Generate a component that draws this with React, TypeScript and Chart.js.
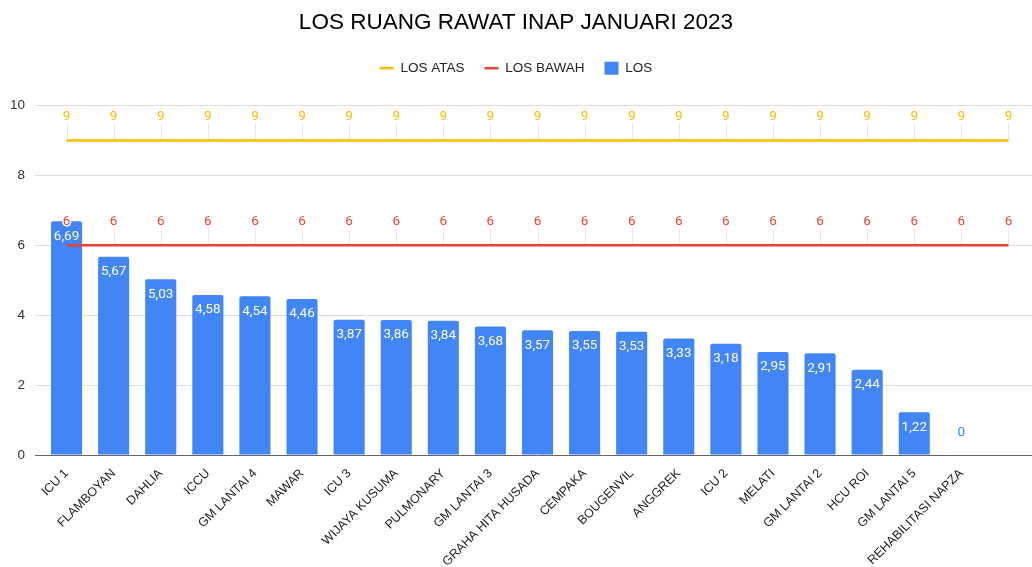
import React, { useEffect, useRef } from "react";
import { Chart, registerables } from "chart.js";

Chart.register(...registerables);

const TITLE = "LOS RUANG RAWAT INAP JANUARI 2023";

const categories: string[] = [
  "ICU 1",
  "FLAMBOYAN",
  "DAHLIA",
  "ICCU",
  "GM LANTAI 4",
  "MAWAR",
  "ICU 3",
  "WIJAYA KUSUMA",
  "PULMONARY",
  "GM LANTAI 3",
  "GRAHA HITA HUSADA",
  "CEMPAKA",
  "BOUGENVIL",
  "ANGGREK",
  "ICU 2",
  "MELATI",
  "GM LANTAI 2",
  "HCU ROI",
  "GM LANTAI 5",
  "REHABILITASI NAPZA",
  "",
];

const losValues: (number | null)[] = [
  6.69, 5.67, 5.03, 4.58, 4.54, 4.46, 3.87, 3.86, 3.84, 3.68, 3.57, 3.55,
  3.53, 3.33, 3.18, 2.95, 2.91, 2.44, 1.22, 0, null,
];

const losAtas: number[] = [
  9, 9, 9, 9, 9, 9, 9, 9, 9, 9, 9, 9, 9, 9, 9, 9, 9, 9, 9, 9, 9,
];

const losBawah: number[] = [
  6, 6, 6, 6, 6, 6, 6, 6, 6, 6, 6, 6, 6, 6, 6, 6, 6, 6, 6, 6, 6,
];

const yTicks: number[] = [0, 2, 4, 6, 8, 10];

const YELLOW = "#fbbc04";
const RED = "#ea4335";
const BLUE = "#4285f4";

const fmt = (v: number) =>
  Number.isInteger(v) ? String(v) : v.toFixed(2).replace(".", ",");

const labelPlugin = {
  id: "valueLabels",
  beforeDatasetsDraw(chart: any) {
    const ctx = chart.ctx;
    ctx.save();
    chart.data.datasets.forEach((ds: any, i: number) => {
      if (ds.type !== "line") return;
      const meta = chart.getDatasetMeta(i);
      meta.data.forEach((el: any, j: number) => {
        const v = ds.data[j];
        if (v === null || v === undefined) return;
        ctx.strokeStyle = "#e8e8e8";
        ctx.lineWidth = 1;
        ctx.beginPath();
        ctx.moveTo(Math.round(el.x) + 0.5, el.y - 17);
        ctx.lineTo(Math.round(el.x) + 0.5, el.y);
        ctx.stroke();
      });
    });
    ctx.restore();
  },
  afterDatasetsDraw(chart: any) {
    const ctx = chart.ctx;
    ctx.save();
    ctx.textAlign = "center";
    ctx.textBaseline = "middle";
    ctx.font = "13.5px Roboto";
    chart.data.datasets.forEach((ds: any, i: number) => {
      const meta = chart.getDatasetMeta(i);
      meta.data.forEach((el: any, j: number) => {
        const v = ds.data[j];
        if (v === null || v === undefined) return;
        const text = fmt(v);
        if (ds.type === "line") {
          ctx.lineWidth = 3;
          ctx.strokeStyle = "#ffffff";
          ctx.lineJoin = "round";
          ctx.strokeText(text, el.x, el.y - 24);
          ctx.fillStyle = ds.borderColor;
          ctx.fillText(text, el.x, el.y - 24);
        } else {
          if (v === 0) {
            ctx.fillStyle = BLUE;
            ctx.fillText(text, el.x, el.y - 22);
          } else {
            ctx.fillStyle = "#ffffff";
            ctx.fillText(text, el.x, el.y + 15);
          }
        }
      });
    });
    ctx.restore();
  },
};

export default function App() {
  const canvasRef = useRef<HTMLCanvasElement | null>(null);

  useEffect(() => {
    if (!canvasRef.current) return;
    const chart = new Chart(canvasRef.current, {
      type: "bar",
      data: {
        labels: categories,
        datasets: [
          {
            type: "line",
            label: "LOS ATAS",
            data: losAtas,
            borderColor: YELLOW,
            backgroundColor: YELLOW,
            borderWidth: 2.5,
            pointRadius: 0,
            pointStyle: "line",
            fill: false,
            xAxisID: "x",
            yAxisID: "y",
          } as any,
          {
            type: "line",
            label: "LOS BAWAH",
            data: losBawah,
            borderColor: RED,
            backgroundColor: RED,
            borderWidth: 2.5,
            pointRadius: 0,
            pointStyle: "line",
            fill: false,
            xAxisID: "x",
            yAxisID: "y",
          } as any,
          {
            type: "bar",
            label: "LOS",
            data: losValues,
            backgroundColor: BLUE,
            borderColor: BLUE,
            borderWidth: 0,
            borderRadius: 2,
            borderSkipped: "bottom",
            pointStyle: "rect",
            categoryPercentage: 0.66,
            barPercentage: 1,
            xAxisID: "x",
            yAxisID: "y",
          } as any,
        ],
      },
      options: {
        animation: false,
        responsive: true,
        maintainAspectRatio: false,
        layout: { padding: { left: 0, right: 0, top: 0, bottom: 0 } },
        plugins: {
          title: {
            display: true,
            text: TITLE,
            color: "#000000",
            font: { family: "'Liberation Sans', Arial", size: 22.5, weight: "normal" },
            padding: { top: 9, bottom: 5.5 },
          },
          legend: {
            display: true,
            position: "top",
            labels: {
              usePointStyle: true,
              pointStyleWidth: 14,
              boxHeight: 13,
              padding: 20,
              color: "#222222",
              font: { family: "'Liberation Sans', Arial", size: 13.5 },
            },
          },
          tooltip: { enabled: false },
        },
        scales: {
          x: {
            type: "category",
            position: "bottom",
            grid: { display: false },
            border: { display: false },
            ticks: {
              autoSkip: false,
              minRotation: 45,
              maxRotation: 45,
              padding: 3,
              color: "#222222",
              font: { family: "'Liberation Sans', Arial", size: 12.5 },
            },
            afterFit: (s: any) => {
              s.height = 112;
            },
          },
          gap: {
            type: "category",
            position: "top",
            display: true,
            grid: { display: false, drawTicks: false },
            border: { display: false },
            ticks: { display: false },
            afterFit: (s: any) => {
              s.height = 20.5;
            },
          },
          y: {
            type: "linear",
            min: 0,
            max: 10,
            afterBuildTicks: (s: any) => {
              s.ticks = yTicks.map((v) => ({ value: v }));
            },
            ticks: {
              padding: 10,
              color: "#333333",
              font: { family: "'Liberation Sans', Arial", size: 13.5 },
            },
            grid: {
              color: (c: any) => (c.tick && c.tick.value === 0 ? "#666666" : "#dddddd"),
              tickLength: 8,
              lineWidth: 1,
            },
            border: { display: false },
            afterFit: (s: any) => {
              s.width = 43;
            },
          },
        } as any,
      },
      plugins: [labelPlugin],
    });
    return () => chart.destroy();
  }, []);

  return (
    <div
      style={{
        position: "absolute",
        left: 0,
        top: 0,
        width: 1032,
        height: 567,
        background: "#ffffff",
      }}
    >
      <canvas ref={canvasRef} />
    </div>
  );
}
